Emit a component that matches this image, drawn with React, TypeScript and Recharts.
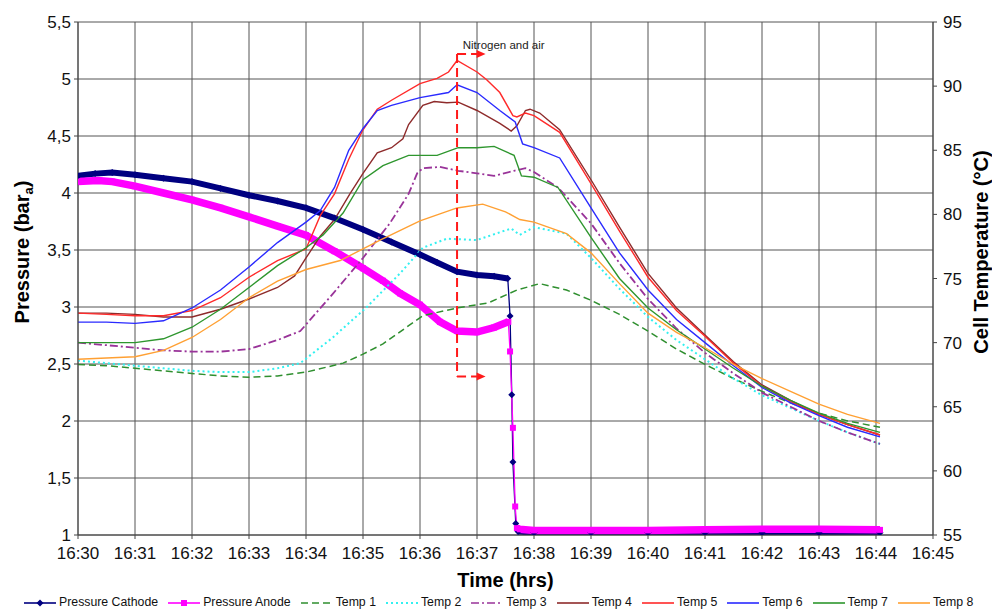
import React from 'react';
import {
  CartesianGrid,
  Legend,
  Line,
  LineChart,
  ReferenceDot,
  ReferenceLine,
  XAxis,
  YAxis,
} from 'recharts';

// minutes after 16:30 -> value
type Pt = [number, number];

const minuteTicks = [0, 1, 2, 3, 4, 5, 6, 7, 8, 9, 10, 11, 12, 13, 14, 15];
const pressureTicks = [1, 1.5, 2, 2.5, 3, 3.5, 4, 4.5, 5, 5.5];
const tempTicks = [55, 60, 65, 70, 75, 80, 85, 90, 95];

// pressures (bar a)
const cathodeBefore: Pt[] = [
  [0, 4.15], [0.3, 4.17], [0.6, 4.18], [1, 4.16], [1.5, 4.13], [2, 4.1], [2.5, 4.04],
  [3, 3.98], [3.5, 3.93], [4, 3.87], [4.5, 3.78], [5, 3.68], [5.5, 3.57], [6, 3.46],
  [6.3, 3.39], [6.65, 3.31], [7, 3.28], [7.3, 3.27], [7.54, 3.25],
];
const cathodeDrop: Pt[] = [[7.58, 2.92], [7.61, 2.23], [7.63, 1.64], [7.68, 1.1]];
const cathodeAfter: Pt[] = [
  [7.72, 1.03], [8, 1.02], [9, 1.02], [10, 1.02], [11, 1.02], [12, 1.02], [13, 1.02], [14.07, 1.02],
];

const anodeBefore: Pt[] = [
  [0, 4.1], [0.35, 4.11], [0.6, 4.1], [1, 4.06], [1.5, 4.0], [2, 3.94], [2.5, 3.87],
  [3, 3.79], [3.5, 3.71], [4, 3.63], [4.5, 3.49], [5, 3.34], [5.35, 3.23], [5.65, 3.12],
  [6, 3.02], [6.35, 2.87], [6.65, 2.79], [7, 2.78], [7.3, 2.82], [7.55, 2.87],
];
const anodeDrop: Pt[] = [[7.58, 2.61], [7.63, 1.94], [7.67, 1.25]];
const anodeAfter: Pt[] = [
  [7.7, 1.06], [7.75, 1.05], [8, 1.04], [9, 1.04], [10, 1.04], [11, 1.045], [12, 1.05],
  [13, 1.05], [14.07, 1.045],
];

// cell temperatures (°C)
const temp1: Pt[] = [
  [0, 68.3], [0.5, 68.2], [1, 68.0], [1.5, 67.8], [2, 67.6], [2.5, 67.4], [3, 67.3],
  [3.5, 67.4], [4, 67.7], [4.65, 68.4], [5, 69.1], [5.35, 69.9], [5.7, 71.0], [6.05, 72.1],
  [6.65, 72.7], [7.2, 73.1], [7.7, 74.1], [8.1, 74.6], [8.57, 74.1], [9, 73.3], [9.5, 72.2],
  [10, 70.9], [10.5, 69.5], [11, 68.3], [11.5, 67.2], [12, 66.2], [12.5, 65.3], [13, 64.5],
  [13.5, 63.9], [14.07, 63.4],
];
const temp2: Pt[] = [
  [0, 68.6], [0.5, 68.4], [1, 68.2], [1.5, 68.0], [2, 67.8], [2.5, 67.7], [3, 67.7],
  [3.5, 68.0], [3.9, 68.4], [4.47, 70.4], [5.05, 72.7], [5.65, 75.4], [6.05, 77.4],
  [6.47, 78.1], [7, 78.0], [7.4, 78.6], [7.6, 78.9], [7.75, 78.4], [8, 79.0], [8.57, 78.5],
  [9, 76.6], [9.5, 74.2], [10, 72.0], [10.5, 70.2], [11, 68.7], [11.5, 67.2], [12, 65.9],
  [12.5, 64.9], [13, 63.9], [13.5, 63.0], [14.07, 62.1],
];
const temp3: Pt[] = [
  [0, 70.0], [0.5, 69.8], [1, 69.6], [1.5, 69.4], [2, 69.3], [2.5, 69.3], [3, 69.5],
  [3.5, 70.2], [3.9, 70.9], [4.47, 73.8], [5, 76.6], [5.47, 79.3], [5.8, 81.6], [5.95, 83.2],
  [6.05, 83.6], [6.35, 83.7], [6.67, 83.4], [7, 83.2], [7.3, 83.0], [7.65, 83.4], [7.85, 83.6],
  [8, 83.3], [8.42, 82.1], [9, 79.3], [9.5, 76.2], [10, 73.4], [10.5, 71.1], [11, 69.2],
  [11.5, 67.6], [12, 66.1], [12.5, 65.0], [13, 63.9], [13.5, 63.0], [14.07, 62.1],
];
const temp4: Pt[] = [
  [0, 72.3], [0.5, 72.3], [1, 72.2], [1.5, 72.0], [2, 72.0], [2.5, 72.6], [3, 73.4],
  [3.5, 74.3], [3.8, 75.2], [4, 76.6], [4.25, 78.3], [4.5, 79.6], [4.77, 81.6], [5, 83.2],
  [5.25, 84.8], [5.5, 85.2], [5.7, 85.9], [5.8, 87.0], [6.05, 88.5], [6.25, 88.8],
  [6.47, 88.7], [6.67, 88.75], [7, 88.1], [7.4, 87.1], [7.6, 86.5], [7.7, 86.9], [7.85, 88.1],
  [7.93, 88.2], [8.1, 87.9], [8.45, 86.6], [9, 82.7], [9.5, 79.0], [10, 75.4], [10.5, 72.7],
  [11, 70.6], [11.5, 68.5], [12, 66.7], [12.5, 65.5], [13, 64.4], [13.5, 63.6], [14.07, 62.8],
];
const temp5: Pt[] = [
  [0, 72.3], [0.5, 72.2], [1, 72.1], [1.5, 72.1], [2, 72.5], [2.5, 73.5], [3, 75.1],
  [3.5, 76.4], [4, 77.3], [4.25, 79.9], [4.5, 81.6], [4.75, 84.3], [5, 86.6], [5.25, 88.2],
  [5.5, 88.9], [6, 90.2], [6.3, 90.6], [6.5, 91.1], [6.65, 92.0], [7, 91.1], [7.17, 90.5],
  [7.4, 89.5], [7.63, 87.7], [7.7, 87.6], [7.85, 87.9], [8, 87.7], [8.45, 86.4], [9, 82.4],
  [9.5, 78.7], [10, 75.1], [10.5, 72.5], [11, 70.5], [11.5, 68.4], [12, 66.6], [12.5, 65.4],
  [13, 64.4], [13.5, 63.6], [14.07, 62.8],
];
const temp6: Pt[] = [
  [0, 71.6], [0.5, 71.6], [1, 71.5], [1.5, 71.7], [2, 72.7], [2.5, 74.1], [3, 75.9],
  [3.5, 77.8], [4, 79.4], [4.25, 80.3], [4.5, 82.1], [4.75, 85.0], [5, 86.7], [5.25, 88.1],
  [5.5, 88.5], [6, 89.1], [6.5, 89.5], [6.65, 90.1], [7, 89.5], [7.4, 88.1], [7.67, 87.2],
  [7.8, 85.5], [8, 85.2], [8.45, 84.4], [9, 80.5], [9.5, 77.0], [10, 74.1], [10.5, 71.8],
  [11, 70.0], [11.5, 68.2], [12, 66.5], [12.5, 65.3], [13, 64.3], [13.5, 63.4], [14.07, 62.65],
];
const temp7: Pt[] = [
  [0, 70.0], [0.5, 70.0], [1, 70.0], [1.5, 70.3], [2, 71.2], [2.5, 72.6], [3, 74.3],
  [3.5, 76.0], [4, 77.4], [4.3, 78.4], [4.65, 80.1], [5, 82.7], [5.35, 83.8], [5.8, 84.6],
  [6.3, 84.6], [6.67, 85.2], [7, 85.2], [7.3, 85.3], [7.65, 84.6], [7.78, 83.0], [8, 82.9],
  [8.42, 82.1], [9, 78.2], [9.5, 75.0], [10, 72.7], [10.5, 71.0], [11, 69.5], [11.5, 68.0],
  [12, 66.6], [12.5, 65.5], [13, 64.5], [13.5, 63.7], [14.07, 63.0],
];
const temp8: Pt[] = [
  [0, 68.7], [0.5, 68.8], [1, 68.9], [1.5, 69.4], [2, 70.4], [2.5, 71.8], [3, 73.5],
  [3.5, 74.8], [4, 75.7], [4.6, 76.4], [5.3, 78.0], [6, 79.5], [6.65, 80.5], [7.1, 80.8],
  [7.5, 80.2], [7.75, 79.6], [8, 79.4], [8.57, 78.5], [9, 77.0], [9.5, 74.6], [10, 72.3],
  [10.5, 70.8], [11, 69.6], [11.5, 68.3], [12, 67.2], [12.5, 66.2], [13, 65.2], [13.5, 64.4],
  [14.07, 63.7],
];

// gas switch marker: time and pressure span of the bracket
const switchTime = 6.65;
const switchArrowEnd = 7.15;
const switchTop = 5.22;
const switchBottom = 2.39;

const FONT = '"Liberation Sans", Arial, Helvetica, sans-serif';
const NAVY = '#000080';
const MAGENTA = '#ff00ff';
const SWITCH_RED = '#ff1a1a';

const toRows = (pts: Pt[]) => pts.map(([t, v]) => ({ t, v }));
// thick trace for the densely sampled parts, broken across the drop
const bandRows = (before: Pt[], after: Pt[]) => [
  ...toRows(before),
  { t: (before[before.length - 1][0] + after[0][0]) / 2, v: null },
  ...toRows(after),
];

const cathodeRows = toRows([...cathodeBefore, ...cathodeDrop, ...cathodeAfter]);
const anodeRows = toRows([...anodeBefore, ...anodeDrop, ...anodeAfter]);

const temps = [
  { name: 'Temp 1', data: temp1, color: '#2f8f2f', dash: '7 4', width: 1.5 },
  { name: 'Temp 2', data: temp2, color: '#33f0f0', dash: '2 3', width: 2 },
  { name: 'Temp 3', data: temp3, color: '#993399', dash: '8 3 2 3', width: 1.8 },
  { name: 'Temp 4', data: temp4, color: '#8e2b2b', dash: undefined, width: 1.4 },
  { name: 'Temp 5', data: temp5, color: '#ff2a2a', dash: undefined, width: 1.4 },
  { name: 'Temp 6', data: temp6, color: '#2a2aff', dash: undefined, width: 1.4 },
  { name: 'Temp 7', data: temp7, color: '#2e962e', dash: undefined, width: 1.4 },
  { name: 'Temp 8', data: temp8, color: '#ffa033', dash: undefined, width: 1.4 },
];

const diamondDot = (props: any) => {
  const { cx, cy, index } = props;
  if (cx == null || cy == null) return <g key={index} />;
  const r = 3.5;
  return (
    <path key={index} d={`M${cx},${cy - r}L${cx + r},${cy}L${cx},${cy + r}L${cx - r},${cy}Z`} fill={NAVY} />
  );
};

const squareDot = (props: any) => {
  const { cx, cy, index } = props;
  if (cx == null || cy == null) return <g key={index} />;
  return <rect key={index} x={cx - 3} y={cy - 3} width={6} height={6} fill={MAGENTA} />;
};

const arrowHead = (props: any) => {
  const { cx, cy } = props;
  return <polygon points={`${cx},${cy} ${cx - 9},${cy - 4} ${cx - 9},${cy + 4}`} fill={SWITCH_RED} />;
};

const noteText = (props: any) => (
  <text x={props.cx} y={props.cy} fontSize={11.5} fontFamily={FONT} fill="#222">
    Nitrogen and air
  </text>
);

const legendItems = [
  { name: 'Pressure Cathode', color: NAVY, dash: undefined, marker: 'diamond' },
  { name: 'Pressure Anode', color: MAGENTA, dash: undefined, marker: 'square' },
  ...temps.map((s) => ({ name: s.name, color: s.color, dash: s.dash, marker: '' })),
];

const renderLegend = () => (
  <div
    style={{
      height: 22,
      boxSizing: 'border-box',
      paddingTop: 9,
      paddingLeft: 24,
      display: 'flex',
      alignItems: 'center',
      gap: 10,
      fontFamily: FONT,
      fontSize: 12.3,
      lineHeight: '13px',
      color: '#111',
      whiteSpace: 'nowrap',
    }}
  >
    {legendItems.map((it) => (
      <span key={it.name} style={{ display: 'flex', alignItems: 'center' }}>
        <svg width={32} height={10} style={{ marginRight: 3 }}>
          <line x1={0} y1={5} x2={32} y2={5} stroke={it.color} strokeWidth={it.dash === '2 3' ? 2 : 1.6} strokeDasharray={it.dash} />
          {it.marker === 'diamond' && <path d="M16,1.5L19.5,5L16,8.5L12.5,5Z" fill={it.color} />}
          {it.marker === 'square' && <rect x={13} y={2} width={6} height={6} fill={it.color} />}
        </svg>
        {it.name}
      </span>
    ))}
  </div>
);

const tickStyle = { fill: '#111', fontSize: 17, fontFamily: FONT };

// vertical titles sit a little above the plot's middle
const SIDE_TITLE_Y = 252;

const axisTitle = (x: number, y: number, children: React.ReactNode, rotate = false) => (
  <text
    x={x}
    y={y}
    transform={rotate ? `rotate(-90 ${x} ${y})` : undefined}
    textAnchor="middle"
    fontSize={20}
    fontWeight="bold"
    fontFamily={FONT}
    fill="#000"
  >
    {children}
  </text>
);

export default function App() {
  return (
    <div style={{ position: 'absolute', left: 0, top: 0, background: '#fff' }}>
      <LineChart width={992} height={609} margin={{ top: 22, right: 0, bottom: 0, left: 0 }}>
        <CartesianGrid yAxisId="p" stroke="#555" strokeWidth={1} />
        <XAxis
          dataKey="t"
          type="number"
          domain={[0, 15]}
          ticks={minuteTicks}
          tickFormatter={(v: number) => `16:${30 + v}`}
          allowDataOverflow
          height={52}
          stroke="#444"
          tickSize={4}
          tickMargin={8}
          tick={tickStyle}
          label={({ viewBox }: any) =>
            axisTitle(viewBox.x + viewBox.width / 2, viewBox.y + 52, 'Time (hrs)')
          }
        />
        <YAxis
          yAxisId="p"
          domain={[1, 5.5]}
          ticks={pressureTicks}
          tickFormatter={(v: number) => String(v).replace('.', ',')}
          allowDataOverflow
          width={78}
          stroke="#444"
          tickSize={4}
          tickMargin={3}
          tick={tickStyle}
          label={() =>
            axisTitle(
              29,
              SIDE_TITLE_Y,
              <>
                Pressure (bar
                <tspan fontSize={13} dy={4}>a</tspan>
                <tspan dy={-4}>)</tspan>
              </>,
              true,
            )
          }
        />
        <YAxis
          yAxisId="T"
          orientation="right"
          domain={[55, 95]}
          ticks={tempTicks}
          allowDataOverflow
          width={59}
          stroke="#444"
          tickSize={4}
          tickMargin={6}
          tick={tickStyle}
          label={() => axisTitle(988, SIDE_TITLE_Y, 'Cell Temperature (°C)', true)}
        />
        <Legend verticalAlign="bottom" content={renderLegend} />

        {/* pressure traces: thick band plus a thin line carrying the markers */}
        <Line
          yAxisId="p"
          data={bandRows(cathodeBefore, cathodeAfter)}
          dataKey="v"
          stroke={NAVY}
          strokeWidth={6}
          dot={false}
          legendType="none"
          isAnimationActive={false}
        />
        <Line
          yAxisId="p"
          data={cathodeRows}
          dataKey="v"
          name="Pressure Cathode"
          stroke={NAVY}
          strokeWidth={1.3}
          dot={diamondDot}
          isAnimationActive={false}
        />
        <Line
          yAxisId="p"
          data={bandRows(anodeBefore, anodeAfter)}
          dataKey="v"
          stroke={MAGENTA}
          strokeWidth={7.5}
          dot={false}
          legendType="none"
          isAnimationActive={false}
        />
        <Line
          yAxisId="p"
          data={anodeRows}
          dataKey="v"
          name="Pressure Anode"
          stroke={MAGENTA}
          strokeWidth={1.3}
          dot={squareDot}
          isAnimationActive={false}
        />

        {temps.map((s) => (
          <Line
            key={s.name}
            yAxisId="T"
            data={toRows(s.data)}
            dataKey="v"
            name={s.name}
            stroke={s.color}
            strokeWidth={s.width}
            strokeDasharray={s.dash}
            dot={false}
            isAnimationActive={false}
          />
        ))}

        {/* gas switch bracket */}
        <ReferenceLine
          yAxisId="p"
          segment={[{ x: switchTime, y: switchTop }, { x: switchTime, y: switchBottom }]}
          stroke={SWITCH_RED}
          strokeWidth={2}
          strokeDasharray="9 5"
        />
        <ReferenceLine
          yAxisId="p"
          segment={[{ x: switchTime, y: switchTop }, { x: switchArrowEnd - 0.12, y: switchTop }]}
          stroke={SWITCH_RED}
          strokeWidth={2}
          strokeDasharray="9 5"
        />
        <ReferenceLine
          yAxisId="p"
          segment={[{ x: switchTime, y: switchBottom }, { x: switchArrowEnd - 0.12, y: switchBottom }]}
          stroke={SWITCH_RED}
          strokeWidth={2}
          strokeDasharray="9 5"
        />
        <ReferenceDot yAxisId="p" x={switchArrowEnd} y={switchTop} shape={arrowHead} />
        <ReferenceDot yAxisId="p" x={switchArrowEnd} y={switchBottom} shape={arrowHead} />
        <ReferenceDot yAxisId="p" x={6.75} y={5.26} shape={noteText} />
      </LineChart>
    </div>
  );
}
